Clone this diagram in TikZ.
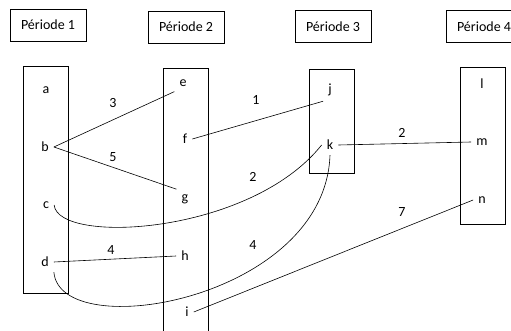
\documentclass[tikz,border=0pt]{standalone}
\usepackage{fontspec}
\setmainfont{Carlito}
\begin{document}
\begin{tikzpicture}[x=1pt,y=-1pt,
  hdr/.style={draw,line width=0.7pt,minimum width=76pt,minimum height=32pt,inner sep=0pt,font=\fontsize{14}{16}\selectfont},
  col/.style={draw,line width=0.7pt},
  lbl/.style={inner sep=5pt,font=\fontsize{14}{16}\selectfont},
  num/.style={inner sep=0pt,font=\fontsize{14}{16}\selectfont},
  conn/.style={line width=0.6pt}]
\useasboundingbox (0,0) rectangle (511,331);
% headers
\node[hdr] (p1) at (48,25) {Période 1};
\node[hdr] (p2) at (186,27) {Période 2};
\node[hdr] (p3) at (333,26.5) {Période 3};
\node[hdr] (p4) at (484,26.5) {Période 4};
% columns
\draw[col] (23,66) rectangle (68,293);
\draw[col] (163,68) rectangle (208,340);
\draw[col] (309,69) rectangle (354,173);
\draw[col] (460,67) rectangle (505,224);
% letters
\node[lbl] (a) at (46,90) {a};
\node[lbl] (b) at (45,147) {b};
\node[lbl] (c) at (46,205) {c};
\node[lbl] (d) at (45,262) {d};
\node[lbl] (e) at (183,83) {e};
\node[lbl] (f) at (185,139) {f};
\node[lbl] (g) at (185,199) {g};
\node[lbl] (h) at (185,256) {h};
\node[lbl] (i) at (187,312) {i};
\node[lbl] (j) at (330,90) {j};
\node[lbl] (k) at (330,145) {k};
\node[lbl] (l) at (482,84) {l};
\node[lbl] (m) at (482,142) {m};
\node[lbl] (n) at (482,200) {n};
% connectors
\draw[conn] (b.east) -- (e.south west);
\draw[conn] (b.east) -- (g.north west);
\draw[conn] (f.east) -- (j.south west);
\draw[conn] (k.east) -- (m.west);
\draw[conn] (d.east) -- (h.west);
\draw[conn] (i.east) -- (n.west);
\draw[conn] (c.east) .. controls (58,245) and (250,235) .. (k.west);
\draw[conn] (d.south east) .. controls (60,345) and (325,300) .. (k.south);
% numbers
\node[num] (n3) at (113,103) {3};
\node[num] (n5) at (113,157) {5};
\node[num] (n1) at (256,100) {1};
\node[num] (n2a) at (402,133) {2};
\node[num] (n2b) at (253,177) {2};
\node[num] (n4a) at (111,250) {4};
\node[num] (n4b) at (253,245) {4};
\node[num] (n7) at (402,212) {7};
\end{tikzpicture}
\end{document}
